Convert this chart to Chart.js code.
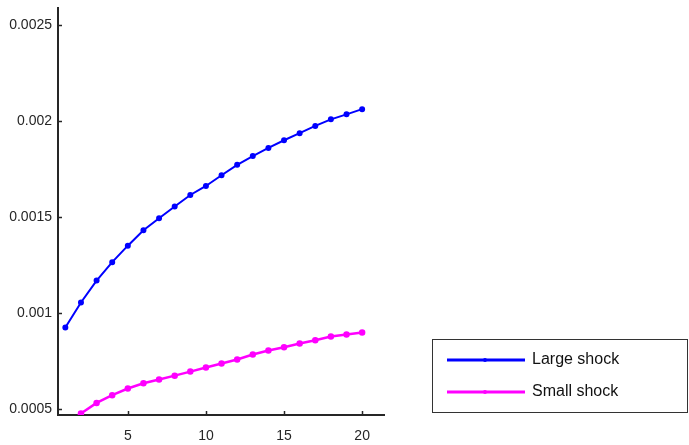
<!DOCTYPE html>
<html>
<head>
<meta charset="utf-8">
<script src="https://cdn.jsdelivr.net/npm/chart.js@4/dist/chart.umd.min.js"></script>
<style>
  html, body { margin: 0; padding: 0; background: #fff; }
  #wrap { width: 689px; height: 445px; position: relative; }
</style>
</head>
<body>
<div id="wrap"><canvas id="shockChart" width="689" height="445"></canvas></div>
<script>
var steps = [1,2,3,4,5,6,7,8,9,10,11,12,13,14,15,16,17,18,19,20];
var largeShock = [0.000926,0.001056,0.00117,0.001266,0.001352,0.001432,0.001495,0.001556,0.001616,0.001663,
                  0.001719,0.001773,0.001819,0.001861,0.001901,0.001938,0.001976,0.00201,0.002036,0.002063];
var smallShock = [0.00041,0.000478,0.000533,0.000573,0.000608,0.000635,0.000655,0.000675,0.000696,0.000717,
                  0.000738,0.000759,0.000785,0.000806,0.000823,0.000842,0.000859,0.000879,0.000889,0.0009];
var yTicks = [0.0005,0.001,0.0015,0.002,0.0025];
var xTicks = [5,10,15,20];
var seriesNames = ["Large shock","Small shock"];

var axisColor = "#262626";
var font = "Liberation Sans, Arial, sans-serif";

function pts(vals) {
  return vals.map(function(v, i) { return {x: steps[i], y: v}; });
}

// MATLAB style inward ticks + box legend outside the axes
var matlabBits = {
  id: 'matlabBits',
  afterDraw: function(chart) {
    var ctx = chart.ctx, a = chart.chartArea;
    var xs = chart.scales.x, ys = chart.scales.y;
    ctx.save();
    ctx.strokeStyle = axisColor;
    ctx.lineWidth = 1.5;
    yTicks.forEach(function(v) {
      var py = Math.round(ys.getPixelForValue(v)) + 0.5;
      ctx.beginPath(); ctx.moveTo(a.left, py); ctx.lineTo(a.left + 4, py); ctx.stroke();
    });
    xTicks.forEach(function(v) {
      var px = Math.round(xs.getPixelForValue(v)) + 0.5;
      ctx.beginPath(); ctx.moveTo(px, a.bottom); ctx.lineTo(px, a.bottom - 4); ctx.stroke();
    });
    // legend
    ctx.lineWidth = 1;
    ctx.strokeStyle = "#333";
    ctx.strokeRect(432.5, 339.5, 255, 73);
    ctx.font = "16px " + font;
    ctx.textBaseline = "middle";
    chart.data.datasets.forEach(function(ds, i) {
      var ly = 360 + i * 32;
      ctx.strokeStyle = ds.borderColor;
      ctx.lineWidth = 3;
      ctx.beginPath(); ctx.moveTo(447, ly); ctx.lineTo(525, ly); ctx.stroke();
      ctx.fillStyle = ds.borderColor;
      ctx.beginPath(); ctx.arc(485, ly, 2, 0, Math.PI * 2); ctx.fill();
      ctx.fillStyle = "#111";
      ctx.fillText(ds.label, 532, ly);
    });
    ctx.restore();
  }
};

var ctx = document.getElementById("shockChart");
var myChart = new Chart(ctx, {
  type: 'line',
  data: {
    datasets: [
      { label: seriesNames[0], data: pts(largeShock), borderColor: "#0000ff", backgroundColor: "#0000ff",
        borderWidth: 2, pointRadius: 2, pointHoverRadius: 2 },
      { label: seriesNames[1], data: pts(smallShock), borderColor: "#ff00ff", backgroundColor: "#ff00ff",
        borderWidth: 2.5, pointRadius: 2, pointHoverRadius: 2 }
    ]
  },
  options: {
    responsive: false,
    animation: false,
    events: [],
    layout: { padding: { top: 8, right: 305, left: 0, bottom: 0 } },
    plugins: { legend: { display: false }, tooltip: { enabled: false } },
    scales: {
      x: {
        type: 'linear', min: 0.53, max: 21.4,
        afterBuildTicks: function(s) { s.ticks = xTicks.map(function(v) { return {value: v}; }); },
        afterFit: function(s) { s.height = 30; s.paddingLeft = 0; s.paddingRight = 0; },
        grid: { display: false, drawTicks: false },
        border: { color: axisColor, width: 2 },
        ticks: { color: axisColor, padding: 13, font: { family: font, size: 14 } }
      },
      y: {
        type: 'linear', min: 0.00047, max: 0.00259,
        afterBuildTicks: function(s) { s.ticks = yTicks.map(function(v) { return {value: v}; }); },
        afterFit: function(s) { s.width = 58; s.paddingTop = 0; s.paddingBottom = 0; },
        grid: { display: false, drawTicks: false },
        border: { color: axisColor, width: 2 },
        ticks: { color: axisColor, padding: 6, font: { family: font, size: 14 },
                 callback: function(v) { return String(+v.toFixed(5)); } }
      }
    }
  },
  plugins: [matlabBits]
});
</script>
</body>
</html>
